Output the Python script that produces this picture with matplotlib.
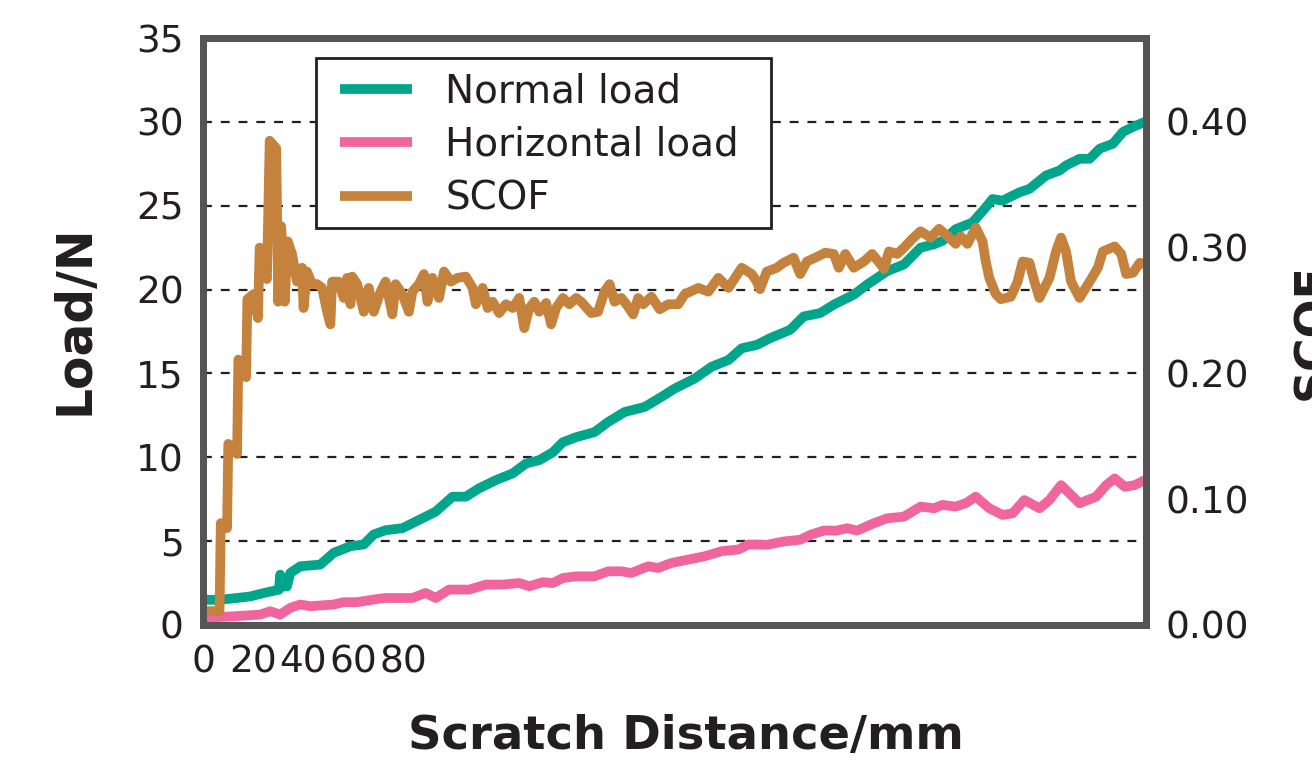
import matplotlib.pyplot as plt
from matplotlib.patches import Rectangle

plt.rcParams['font.family'] = ['DejaVu Sans']

# Scratch data
dist_normal = [0, 6.8, 18.8, 25.5, 30.3, 30.8, 31.5, 33.5, 34.8, 38.8, 46.8, 52.1, 58.8, 64.1, 68.1,
               72.8, 79.5, 86.1, 92.8, 99.5, 104.8, 110.1, 116.8, 123.5, 128.8, 134.1, 139.5, 143.5,
               148.8, 156.1, 161.5, 168.1, 176.1, 182.8, 188.1, 196.1, 202.8, 209.5, 214.8, 220.8,
               226.1, 234.1, 239.5, 246.1, 251.5, 259.5, 264.8, 272.8, 279.5, 286.1, 291.5, 294.8,
               300.1, 306.8, 312.1, 314.8, 318.8, 325.5, 329.5, 336.1, 341.5, 344.1, 349.5, 353.5,
               357.5, 362.8, 366.8, 370.8, 375.5]
normal_load = [1.5, 1.5, 1.7, 1.95, 2.1, 3.0, 2.3, 2.3, 3.1, 3.5, 3.6, 4.3, 4.7, 4.8, 5.4,
               5.65, 5.77, 6.26, 6.76, 7.65, 7.65, 8.15, 8.64, 9.04, 9.63, 9.83, 10.3, 10.9,
               11.2, 11.5, 12.1, 12.7, 13.0, 13.6, 14.1, 14.7, 15.4, 15.8, 16.5, 16.7,
               17.1, 17.6, 18.4, 18.6, 19.1, 19.7, 20.3, 21.1, 21.5, 22.5, 22.7, 22.9,
               23.6, 24.0, 24.9, 25.4, 25.3, 25.8, 26.0, 26.8, 27.1, 27.4, 27.8, 27.8,
               28.4, 28.7, 29.4, 29.7, 30.0]

dist_horizontal = [0, 12.1, 22.8, 26.8, 30.8, 34.8, 38.8, 42.8, 52.1, 56.1, 61.5, 68.1, 72.8, 83.5,
                   88.8, 92.8, 98.1, 106.1, 112.8, 119.5, 126.1, 130.1, 135.5, 139.5, 143.5, 148.8,
                   156.1, 161.5, 166.8, 170.8, 177.5, 181.5, 186.8, 193.5, 200.1, 206.8, 213.5,
                   217.5, 224.8, 231.5, 238.1, 242.1, 247.5, 252.8, 256.8, 260.8, 267.5, 272.8,
                   279.5, 286.1, 291.5, 294.8, 300.1, 304.1, 308.1, 313.5, 318.8, 322.8, 327.5,
                   333.5, 337.5, 342.1, 349.5, 356.1, 360.1, 363.5, 367.5, 371.5, 375.5]
horizontal_load = [0.42, 0.52, 0.62, 0.82, 0.62, 1.02, 1.22, 1.12, 1.22, 1.36, 1.36, 1.52, 1.61, 1.61,
                   1.91, 1.61, 2.11, 2.11, 2.41, 2.41, 2.50, 2.31, 2.55, 2.50, 2.80, 2.9,
                   2.9, 3.2, 3.2, 3.1, 3.5, 3.4, 3.7, 3.9, 4.1, 4.4, 4.5,
                   4.8, 4.78, 4.98, 5.08, 5.37, 5.63, 5.63, 5.77, 5.63, 6.07, 6.36,
                   6.46, 7.06, 6.96, 7.16, 7.06, 7.26, 7.65, 6.96, 6.56, 6.66, 7.45,
                   6.96, 7.45, 8.34, 7.26, 7.65, 8.34, 8.74, 8.24, 8.34, 8.64]

dist_scof = [0, 6.6, 7.1, 9.6, 10.1, 13.6, 14.1, 17.2, 17.7, 20.1, 21.9, 22.6, 25.5, 26.6, 29.2,
             30.0, 31.2, 32.6, 33.8, 35.5, 37.5, 39.5, 40.1, 41.5, 43.5, 45.5, 47.5, 49.5, 50.8,
             51.5, 54.1, 56.1, 57.5, 58.8, 59.5, 61.5, 64.1, 66.1, 68.1, 70.8,
             72.8, 75.5, 76.8, 79.5, 82.1, 83.5, 86.1, 88.1, 89.5, 91.5, 94.1, 96.1, 98.8, 101.5,
             104.8, 107.5, 108.8, 111.5, 113.5, 115.5, 118.1, 120.8, 123.5, 126.1, 128.1, 130.1,
             132.1, 134.1, 136.8, 138.8, 140.8, 143.5, 146.1, 148.8,
             150.8, 154.8, 157.5, 160.1, 162.1, 164.1, 166.8, 168.8, 171.5, 173.5, 175.5, 178.8,
             182.1, 185.5, 189.5, 192.1, 197.5, 201.5, 205.5, 209.5, 214.8, 218.8,
             220.8, 222.1, 224.8, 228.8, 231.5, 235.5, 238.1, 240.8, 244.1, 248.1, 251.5, 253.5,
             256.1, 259.5, 263.5, 266.8, 270.1, 271.5, 273.5, 276.8, 279.5, 282.8, 286.1, 290.1,
             293.5,
             297.5, 300.1, 302.1, 304.8, 308.1, 310.8, 312.1, 313.5, 316.1, 318.1, 322.1, 324.8,
             326.8, 329.5, 331.5, 333.5, 335.5, 337.5, 340.1, 342.1, 344.1, 346.1, 349.5, 353.5,
             356.8, 358.8, 363.5, 366.1, 368.1, 370.8, 373.5, 375.5]
scof = [0.011, 0.011, 0.081, 0.077, 0.144, 0.136, 0.211, 0.197, 0.259, 0.263, 0.244, 0.300, 0.275,
        0.385, 0.379, 0.257, 0.317, 0.257, 0.305, 0.295, 0.273, 0.284, 0.252, 0.281, 0.271, 0.271,
        0.268, 0.249, 0.239, 0.273, 0.273, 0.260, 0.276, 0.255, 0.277, 0.271, 0.249, 0.268, 0.249,
        0.265,
        0.273, 0.247, 0.271, 0.263, 0.249, 0.265, 0.271, 0.279, 0.257, 0.276, 0.260, 0.281, 0.273,
        0.276, 0.277, 0.268, 0.255, 0.268, 0.252, 0.257, 0.248, 0.255, 0.252, 0.260, 0.236, 0.252,
        0.257, 0.249, 0.256, 0.239, 0.252, 0.260, 0.255, 0.260,
        0.257, 0.248, 0.249, 0.265, 0.271, 0.257, 0.260, 0.255, 0.247, 0.260, 0.255, 0.261,
        0.251, 0.255, 0.255, 0.263, 0.268, 0.265, 0.276, 0.268, 0.284, 0.279,
        0.273, 0.267, 0.281, 0.284, 0.288, 0.292, 0.279, 0.289, 0.292, 0.296, 0.295, 0.284,
        0.295, 0.284, 0.289, 0.295, 0.287, 0.283, 0.297, 0.295, 0.300, 0.307, 0.313, 0.308,
        0.315,
        0.308, 0.303, 0.309, 0.303, 0.316, 0.305, 0.289, 0.276, 0.263, 0.259, 0.261, 0.273,
        0.289, 0.288, 0.273, 0.260, 0.268, 0.276, 0.297, 0.308, 0.297, 0.273, 0.260, 0.273,
        0.284, 0.297, 0.301, 0.295, 0.279, 0.280, 0.288, 0.287]

load_ticks = [0, 5, 10, 15, 20, 25, 30, 35]
scof_ticks = [0.0, 0.1, 0.2, 0.3, 0.4]
dist_ticks = [0, 20, 40, 60, 80]

teal = '#00a68b'
pink = '#f0659e'
brown = '#c4823c'
ink = '#231f20'
frame = '#555555'

W, H = 1312, 773
fig = plt.figure(figsize=(W / 100, H / 100), dpi=100)
ax = fig.add_axes([0.1547, 0.1915, 0.7188, 0.7593])
ax2 = ax.twinx()

line_kw = dict(lw=7, solid_joinstyle='round', solid_capstyle='butt')
l1, = ax.plot(dist_normal, normal_load, color=teal, label='Normal load', **line_kw)
l2, = ax.plot(dist_horizontal, horizontal_load, color=pink, label='Horizontal load', **line_kw)
l3, = ax2.plot(dist_scof, scof, color=brown, label='SCOF', **line_kw)

ax.set_xlim(0, 376)
ax.set_ylim(0, 35)
ax2.set_ylim(0, 0.4 * 35 / 30)
ax.set_xticks(dist_ticks)
ax.set_yticks(load_ticks)
ax2.set_yticks(scof_ticks)
ax2.set_yticklabels([f'{v:.2f}' for v in scof_ticks])

ax.yaxis.grid(True, linestyle=(0, (4, 4)), color=ink, lw=1.6)

for a in (ax, ax2):
    a.tick_params(length=0, pad=14, labelsize=27, labelcolor=ink)
    for s in a.spines.values():
        s.set_linewidth(5)
        s.set_color(frame)

ax.set_xlabel('Scratch Distance/mm', fontsize=33.5, fontweight='bold', color=ink, va='center')
ax.xaxis.set_label_coords(0.512, -0.19)
ax.set_ylabel('Load/N', fontsize=35, fontweight='bold', color=ink, va='center')
ax.yaxis.set_label_coords(-0.136, 0.52)
ax2.set_ylabel('SCOF', fontsize=33, fontweight='bold', color=ink, va='center')
ax2.yaxis.set_label_coords(1.178, 0.5)

# legend box drawn separately so its size matches the reference
box = Rectangle((316 / W, 1 - 228 / H), (771 - 316) / W, (228 - 58) / H, transform=fig.transFigure,
                facecolor='white', edgecolor=ink, lw=2, zorder=5)
fig.patches.append(box)
leg = fig.legend(handles=[l1, l2, l3], loc='upper left', bbox_to_anchor=(327 / W, 1 - 59 / H),
                 borderaxespad=0, fontsize=28, frameon=False, handlelength=1.85,
                 handletextpad=0.85, labelspacing=0.4, borderpad=0.34)
leg.set_zorder(6)
for t in leg.get_texts():
    t.set_color(ink)

fig.savefig('out.png', dpi=100)
